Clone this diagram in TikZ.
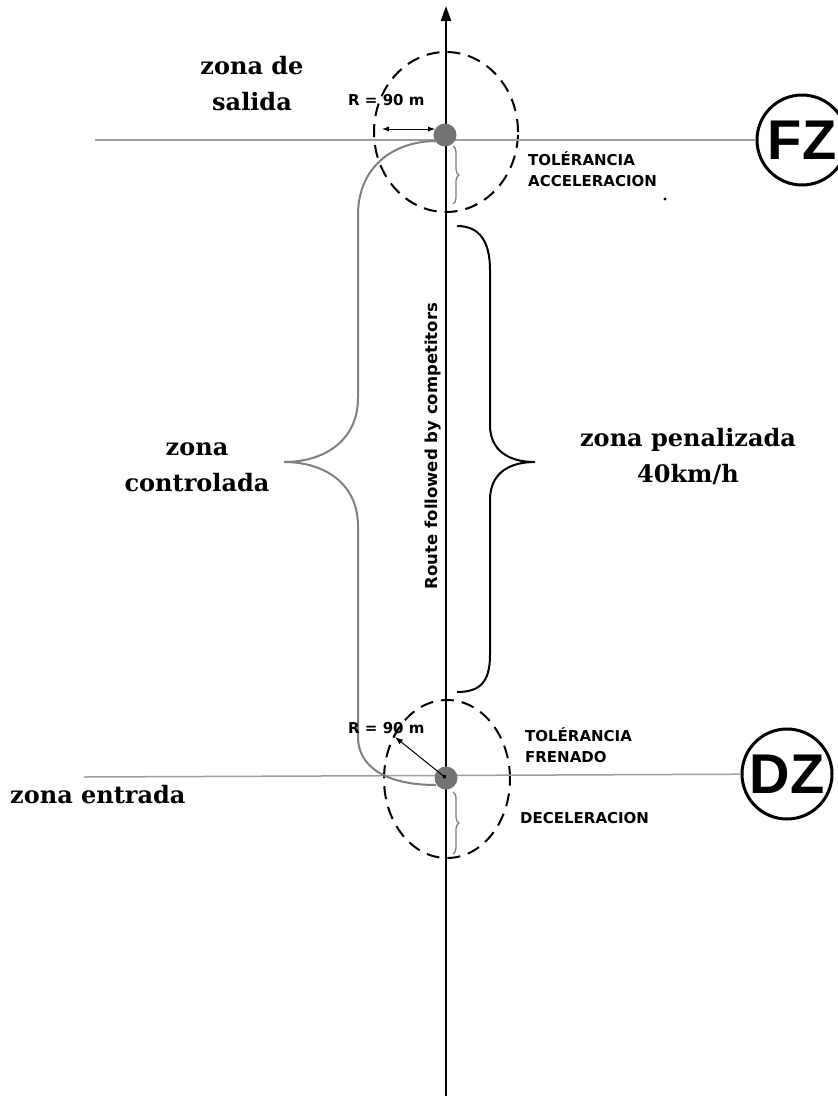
\documentclass[tikz,border=0pt]{standalone}
\usepackage{fontspec}
\setmainfont{DejaVu Serif}
\newfontfamily\signfont{DejaVu Sans}
\newfontfamily\badgefont{Liberation Sans}
\usetikzlibrary{arrows.meta,decorations.pathreplacing}

\definecolor{routegray}{gray}{0.5}
\definecolor{linegray}{gray}{0.62}
\definecolor{dotgray}{gray}{0.45}

\tikzstyle{zonelabel} = [font=\bfseries\fontsize{24}{36}\selectfont, align=center, inner sep=0pt, anchor=base]
\tikzstyle{smalllabel} = [font=\signfont\bfseries\fontsize{15}{20.5}\selectfont, align=left, inner sep=0pt, anchor=base west]
\tikzstyle{badge} = [circle, draw, line width=3pt, inner sep=0pt, minimum size=90pt, font=\badgefont\bfseries\fontsize{56}{56}\selectfont]
\tikzstyle{marker} = [circle, fill=dotgray, inner sep=0pt, minimum size=23pt]
\tikzstyle{ring} = [draw, line width=2pt, dash pattern=on 13pt off 8pt]
\tikzstyle{route} = [draw=routegray, line width=2pt]
\tikzstyle{smallbrace} = [draw=routegray, line width=1.3pt, decorate, decoration={brace, amplitude=6pt}]

\begin{document}
\begin{tikzpicture}[x=1pt, y=-1pt]
	\useasboundingbox (0,0) rectangle (838,1096);

	\draw[ring] (446,132) ellipse [x radius=72pt, y radius=80pt];
	\draw[ring] (447,779) ellipse [x radius=63pt, y radius=79pt];

	\node[badge] (fz) at (802,140) {FZ};
	\node[badge] (dz) at (787,774) {DZ};
	\coordinate (exitline) at (95,140);
	\coordinate (entryline) at (84,777);
	\draw[linegray, line width=1.5pt] (exitline) -- (fz);
	\draw[linegray, line width=1.5pt] (entryline) -- (dz);

	\coordinate (axisbot) at (446,1096);
	\coordinate (axistop) at (446,6);
	\draw[line width=2.2pt, -{Triangle[length=15pt, width=10pt]}] (axisbot) -- (axistop);

	\node[marker] (exitdot) at (445,135) {};
	\node[marker] (entrydot) at (446,778) {};

	\draw[route] (437,141) .. controls (392,141) and (358,168) .. (358,215)
		-- (358,398) .. controls (358,440) and (325,462) .. (284,462)
		.. controls (325,462) and (358,484) .. (358,526)
		-- (358,737) .. controls (358,766) and (385,785) .. (436,785);

	\draw[line width=2pt] (457,226) .. controls (480,226) and (490,242) .. (490,270)
		-- (490,425) .. controls (490,450) and (508,462) .. (535,462)
		.. controls (508,462) and (490,474) .. (490,500)
		-- (490,655) .. controls (490,682) and (480,692) .. (457,692);

	\draw[smallbrace] (453,146) -- (453,204);
	\draw[smallbrace] (453,792) -- (453,854);

	\coordinate (exitR) at (382,129);
	\coordinate (exitC) at (435,129);
	\draw[line width=1pt, {Latex[length=7pt]}-{Latex[length=7pt]}] (exitR) -- (exitC);
	\coordinate (entryR) at (395,737);
	\draw[line width=1pt, {Circle[length=4pt]}-{Latex[length=8pt]}] (entrydot.center) -- (entryR);

	\fill (665,199) circle (1.6pt);

	\node[zonelabel] (salida) at (252,110) {zona de\\salida};
	\node[zonelabel] (controlada) at (197,491) {zona\\controlada};
	\node[zonelabel] (penalizada) at (688,482) {zona penalizada\\40km/h};
	\node[zonelabel, anchor=base west] (entrada) at (10,803) {zona entrada};

	\node[smalllabel] (radiusexit) at (348,105) {R = 90 m};
	\node[smalllabel] (radiusentry) at (348,733) {R = 90 m};
	\node[smalllabel] (accel) at (528,186) {TOLÉRANCIA\\ACCELERACION};
	\node[smalllabel] (brake) at (525,762) {TOLÉRANCIA\\FRENADO};
	\node[smalllabel] (decel) at (520,823) {DECELERACION};

	\node[font=\signfont\bfseries\fontsize{16.5}{18}\selectfont, rotate=90, inner sep=0pt] (route) at (433,446) {Route followed by competitors};
\end{tikzpicture}
\end{document}
